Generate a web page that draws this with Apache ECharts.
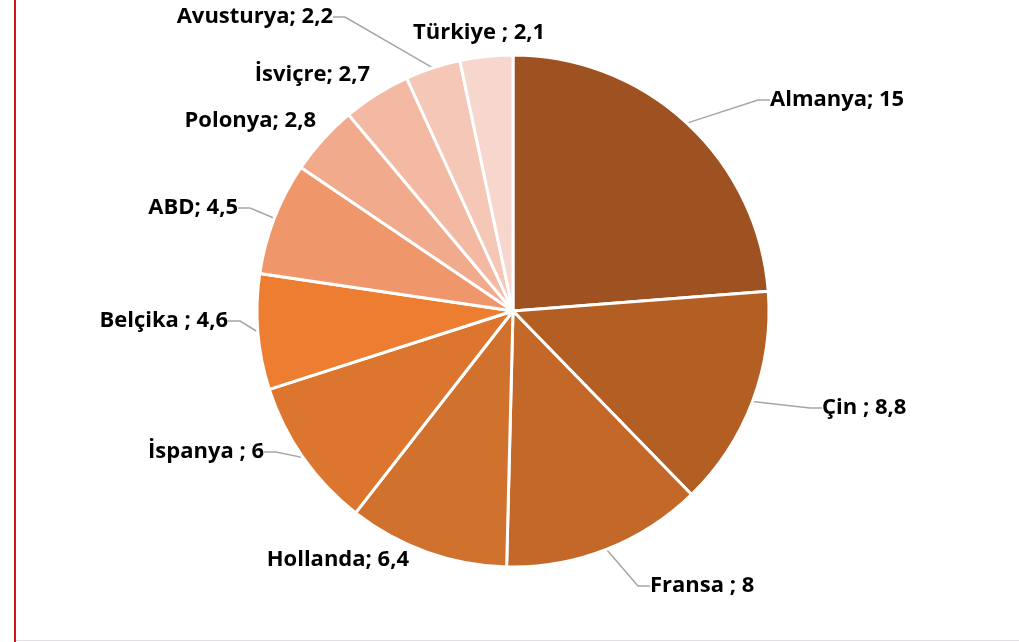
<!DOCTYPE html>
<html>
<head>
<meta charset="utf-8">
<script src="https://cdn.jsdelivr.net/npm/echarts@6/dist/echarts.min.js"></script>
<style>
  html, body { margin: 0; padding: 0; background: #fff; }
  #frame { position: absolute; left: 0; top: 0; width: 1019px; height: 642px; }
  #edge { position: absolute; left: 14px; top: 0; width: 2px; height: 642px; background: #d0121b; }
  #base { position: absolute; left: 16px; top: 640px; width: 1003px; height: 1px; background: #eadfe2; }
  #chart { position: absolute; left: 0; top: 0; width: 1019px; height: 642px; }
</style>
</head>
<body>
<div id="frame">
  <div id="chart"></div>
  <div id="edge"></div>
  <div id="base"></div>
</div>
<script>
// countries, clockwise from 12 o'clock
const countries = ['Almanya', 'Çin ', 'Fransa ', 'Hollanda', 'İspanya ', 'Belçika ', 'ABD', 'Polonya', 'İsviçre', 'Avusturya', 'Türkiye '];
const shares = [15, 8.8, 8, 6.4, 6, 4.6, 4.5, 2.8, 2.7, 2.2, 2.1];
const sliceColors = ['#9e5221', '#b35e22', '#c46829', '#d0722d', '#dc762f', '#ed7d31',
  '#f0966b', '#f1ab8c', '#f4b9a3', '#f5c7b7', '#f7d6cd'];

// where the original put each label: anchor x, middle y, text side
const labelSpots = [
  [770, 100, 'left'], [822, 408, 'left'], [650, 586, 'left'], [409, 560, 'right'],
  [264, 452, 'right'], [228, 321, 'right'], [238, 208, 'right'], [316, 121, 'right'],
  [370, 75, 'right'], [333, 17, 'right'], [413, 33, 'left']
];
// labels drawn without a leader line
const noLeader = ['Hollanda', 'Polonya', 'İsviçre', 'Türkiye '];
const gap = 6;

const chart = echarts.init(document.getElementById('chart'), null, { renderer: 'canvas' });

const data = countries.map(function(name, i) {
  return {
    name: name,
    value: shares[i],
    itemStyle: { color: sliceColors[i] },
    labelLine: { show: noLeader.indexOf(name) < 0 }
  };
});

chart.setOption({
  animation: false,
  series: [{
    type: 'pie',
    center: [513, 311],
    radius: [0, 256],
    startAngle: 90,
    clockwise: true,
    avoidLabelOverlap: false,
    data: data,
    itemStyle: { borderColor: '#fff', borderWidth: 3 },
    label: {
      show: true,
      formatter: function(p) {
        return p.name + '; ' + String(p.value).replace('.', ',');
      },
      fontFamily: 'Open Sans',
      fontWeight: 'bold',
      fontSize: 22,
      color: '#000',
      padding: [0, gap]
    },
    labelLine: {
      show: true,
      length: 14,
      length2: 12,
      lineStyle: { color: '#a6a6a6', width: 1.5 }
    },
    labelLayout: function(params) {
      const spot = labelSpots[params.dataIndex];
      return {
        x: spot[2] === 'left' ? spot[0] - gap : spot[0] + gap,
        y: spot[1],
        align: spot[2],
        verticalAlign: 'middle',
        hideOverlap: false
      };
    }
  }]
});
</script>
</body>
</html>
